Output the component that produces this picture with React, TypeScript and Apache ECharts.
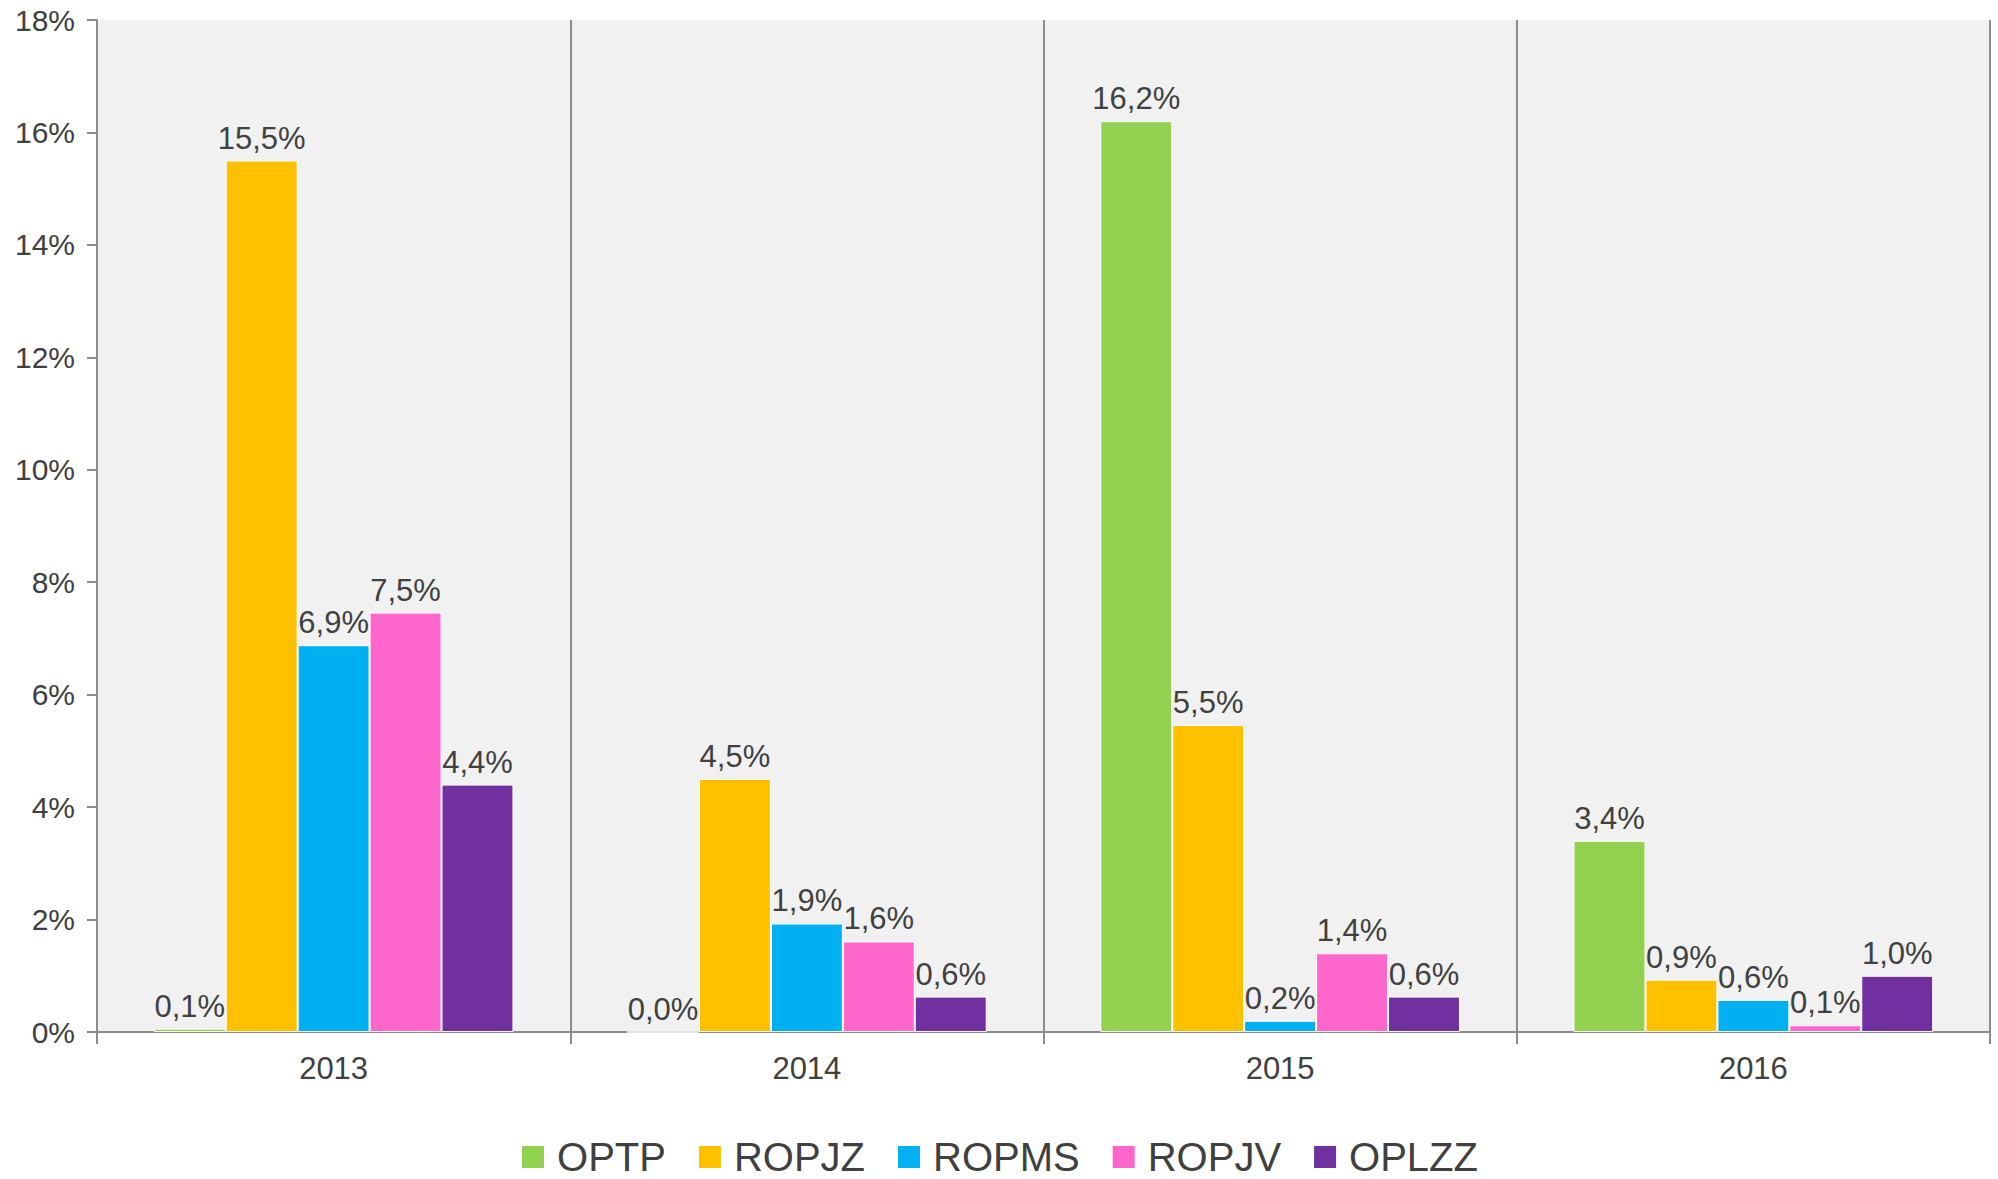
import React, { useEffect, useRef } from "react";
import * as echarts from "echarts";

const years = ["2013", "2014", "2015", "2016"];
const seriesNames = ["OPTP", "ROPJZ", "ROPMS", "ROPJV", "OPLZZ"];
const optp = [0.06, 0.0, 16.2, 3.4];
const ropjz = [15.5, 4.5, 5.46, 0.93];
const ropms = [6.88, 1.93, 0.2, 0.57];
const ropjv = [7.46, 1.61, 1.4, 0.12];
const oplzz = [4.4, 0.63, 0.63, 1.0];
const colors = ["#92d050", "#ffc000", "#00b0f0", "#ff66cc", "#7030a0"];
const yTicks = [0, 2, 4, 6, 8, 10, 12, 14, 16, 18];

const FONT = "'Liberation Sans', Arial, sans-serif";
const TEXT = "#404040";
const AXIS = "#8c8c8c";

export default function App() {
  const ref = useRef<HTMLDivElement>(null);
  useEffect(() => {
    if (!ref.current) return;
    const chart = echarts.init(ref.current, null, { renderer: "svg" });
    const all = [optp, ropjz, ropms, ropjv, oplzz];
    chart.setOption({
      animation: false,
      textStyle: { fontFamily: FONT },
      grid: {
        left: 97,
        right: 8,
        top: 20,
        bottom: 147,
        show: true,
        backgroundColor: "#f1f1f1",
        borderWidth: 0,
      },
      legend: {
        data: seriesNames,
        left: "center",
        top: 1137,
        padding: 0,
        icon: "rect",
        itemWidth: 24,
        itemHeight: 24,
        itemGap: 31,
        textStyle: {
          fontSize: 40,
          color: TEXT,
          fontFamily: FONT,
          lineHeight: 40,
          padding: [0, 0, 0, 7],
        },
      },
      xAxis: {
        type: "category",
        data: years,
        axisLine: { show: true, lineStyle: { color: AXIS, width: 2 } },
        axisTick: { show: true, length: 12, lineStyle: { color: AXIS, width: 2 } },
        splitLine: { show: true, lineStyle: { color: AXIS, width: 2 } },
        axisLabel: { fontSize: 31, color: TEXT, margin: 21, fontFamily: FONT },
      },
      yAxis: {
        type: "value",
        min: yTicks[0],
        max: yTicks[yTicks.length - 1],
        interval: 2,
        axisLine: { show: true, lineStyle: { color: AXIS, width: 2 } },
        axisTick: { show: true, length: 10, lineStyle: { color: AXIS, width: 2 } },
        splitLine: { show: false },
        axisLabel: {
          fontSize: 30,
          color: TEXT,
          margin: 22,
          fontFamily: FONT,
          formatter: (v: number) => `${v}%`,
        },
      },
      series: seriesNames.map((name, i) => ({
        name,
        type: "bar",
        data: all[i],
        barGap: "0%",
        barCategoryGap: "24%",
        itemStyle: { color: colors[i], borderColor: "#ffffff", borderWidth: 1 },
        label: {
          show: true,
          position: "top",
          distance: 7,
          fontSize: 31,
          color: TEXT,
          fontFamily: FONT,
          formatter: (p: any) => `${Number(p.value).toFixed(1).replace(".", ",")}%`,
        },
      })),
    });
    return () => chart.dispose();
  }, []);
  return (
    <div
      ref={ref}
      style={{ position: "fixed", left: 0, top: 0, width: 1998, height: 1179, background: "#ffffff" }}
    />
  );
}
